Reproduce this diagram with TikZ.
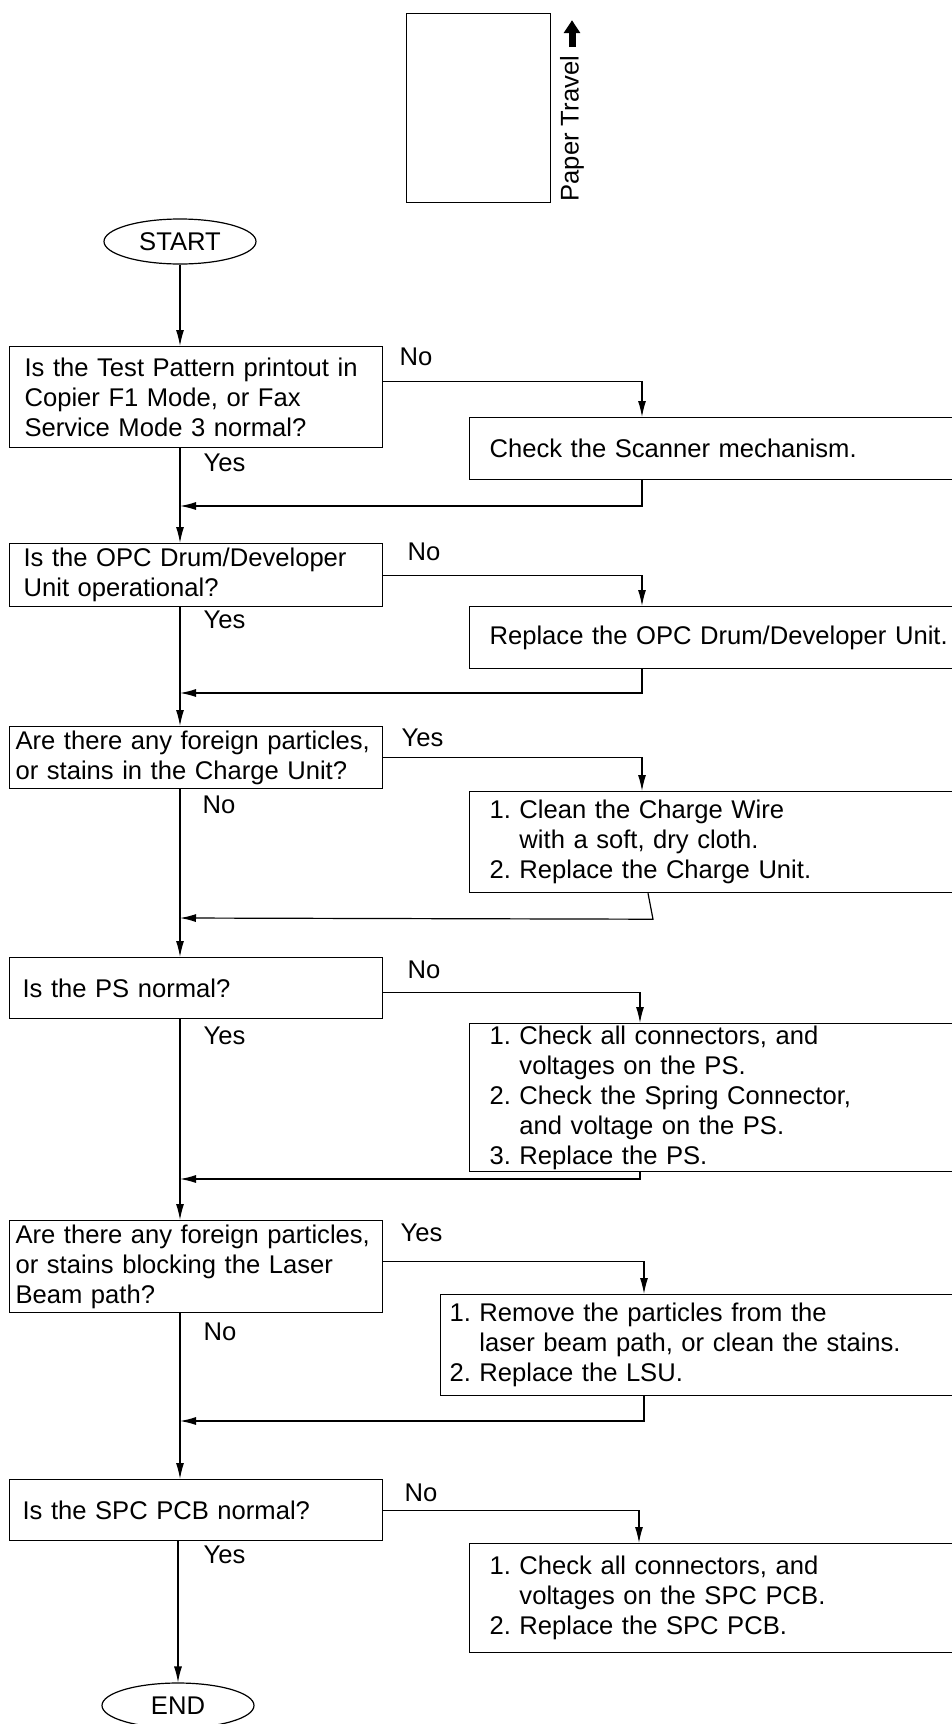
\documentclass[tikz,border=0pt]{standalone}
\usepackage{fontspec}
\setmainfont{Liberation Sans}
\usetikzlibrary{shapes.geometric,arrows.meta}

\newcommand{\flowfont}{\fontsize{25.6}{30}\selectfont\frenchspacing\hyphenpenalty=10000}
\tikzset{
  qbox/.style={draw, rectangle, anchor=north west, align=left, inner xsep=6pt, inner ysep=2pt, text width=361pt, font=\flowfont},
  abox/.style={draw, rectangle, anchor=north west, align=left, inner xsep=20pt, inner ysep=2pt, text width=500pt, font=\flowfont},
  term/.style={draw, ellipse, minimum width=152pt, minimum height=45pt, inner sep=0pt, font=\flowfont},
  lbl/.style={anchor=west, inner sep=0pt, font=\flowfont},
  arr/.style={-{Latex[length=16pt,width=8pt]}}
}

\begin{document}
\begin{tikzpicture}[x=1pt,y=-1pt,line width=1.2pt]
\useasboundingbox (0,0) rectangle (952,1724);
\clip (0,0) rectangle (952,1724);

% paper sheet and travel direction
\node[draw, anchor=north west, minimum width=144pt, minimum height=189pt, inner sep=0pt] (paper) at (406,13) {};
\node[rotate=90, anchor=west, inner sep=0pt, font=\flowfont] (travel) at (572,202) {Paper Travel};
\draw[line width=7pt, -{Triangle[length=13pt,width=16pt]}] ([yshift=8pt]travel.east) -- ++(0,-27);

\node[term] (start) at (180,241.5) {START};
\node[term] (end) at (178,1705.5) {END};

% questions
\node[qbox, inner xsep=15pt, text width=343pt, minimum height=101pt] (q1) at (9,346) {Is the Test Pattern printout in\\Copier F1 Mode, or Fax\\Service Mode 3 normal?};
\node[qbox, inner xsep=14pt, text width=345pt, minimum height=63pt] (q2) at (9,543) {Is the OPC Drum/Developer\\Unit operational?};
\node[qbox, minimum height=62pt] (q3) at (9,726) {Are there any foreign particles,\\or stains in the Charge Unit?};
\node[qbox, inner xsep=13pt, text width=347pt, minimum height=61pt] (q4) at (9,957) {Is the PS normal?};
\node[qbox, minimum height=92pt] (q5) at (9,1220) {Are there any foreign particles,\\or stains blocking the Laser\\Beam path?};
\node[qbox, inner xsep=13pt, text width=347pt, minimum height=61pt] (q6) at (9,1479) {Is the SPC PCB normal?};

% actions
\node[abox, minimum height=62pt] (a1) at (469,417) {Check the Scanner mechanism.};
\node[abox, minimum height=62pt] (a2) at (469,606) {Replace the OPC Drum/Developer Unit.};
\node[abox, minimum height=101pt] (a3) at (469,791) {1. Clean the Charge Wire\\\phantom{1. }with a soft, dry cloth.\\2. Replace the Charge Unit.};
\node[abox, minimum height=148pt] (a4) at (469,1023) {1. Check all connectors, and\\\phantom{1. }voltages on the PS.\\2. Check the Spring Connector,\\\phantom{2. }and voltage on the PS.\\3. Replace the PS.};
\node[abox, inner xsep=9pt, text width=522pt, minimum height=101pt] (a5) at (440,1294) {1. Remove the particles from the\\\phantom{1. }laser beam path, or clean the stains.\\2. Replace the LSU.};
\node[abox, minimum height=109pt] (a6) at (469,1543) {1. Check all connectors, and\\\phantom{1. }voltages on the SPC PCB.\\2. Replace the SPC PCB.};

% answers
\node[lbl] (no1) at (399,357) {No};
\node[lbl] (yes1) at (203,463) {Yes};
\node[lbl] (no2) at (407,552) {No};
\node[lbl] (yes2) at (203,620) {Yes};
\node[lbl] (yes3) at (401,738) {Yes};
\node[lbl] (no3) at (202,805) {No};
\node[lbl] (no4) at (407,970) {No};
\node[lbl] (yes4) at (203,1036) {Yes};
\node[lbl] (yes5) at (400,1233) {Yes};
\node[lbl] (no5) at (203,1332) {No};
\node[lbl] (no6) at (404,1493) {No};
\node[lbl] (yes6) at (203,1555) {Yes};

% return points on the main line
\coordinate (m1) at (180,506);
\coordinate (m2) at (180,693);
\coordinate (m3) at (180,918);
\coordinate (m4) at (180,1179);
\coordinate (m5) at (180,1421);

\draw[arr] (start) -- (q1.north -| start);
\draw[arr] ([yshift=16pt]q1.east) -| ([xshift=173pt]a1.north west);
\draw[arr] ([xshift=173pt]a1.south west) |- (m1);
\draw[arr] (q1.south -| start) -- (q2.north -| start);
\draw[arr] (q2.east) -| ([xshift=173pt]a2.north west);
\draw[arr] ([xshift=173pt]a2.south west) |- (m2);
\draw[arr] (q2.south -| start) -- (q3.north -| start);
\draw[arr] (q3.east) -| ([xshift=173pt]a3.north west);
\draw[arr] ([xshift=179pt]a3.south west) -- ++(5,26) -- (m3);
\draw[arr] (q3.south -| start) -- (q4.north -| start);
\draw[arr] ([yshift=-4pt]q4.east) -| ([xshift=171pt]a4.north west);
\draw[arr] ([xshift=171pt]a4.south west) |- (m4);
\draw[arr] (q4.south -| start) -- (q5.north -| start);
\draw[arr] ([yshift=5pt]q5.east) -| ([xshift=204pt]a5.north west);
\draw[arr] ([xshift=204pt]a5.south west) |- (m5);
\draw[arr] (q5.south -| start) -- (q6.north -| start);
\draw[arr] (q6.east) -| ([xshift=170pt]a6.north west);
\draw[arr] (q6.south -| end) -- (end);
\end{tikzpicture}
\end{document}
